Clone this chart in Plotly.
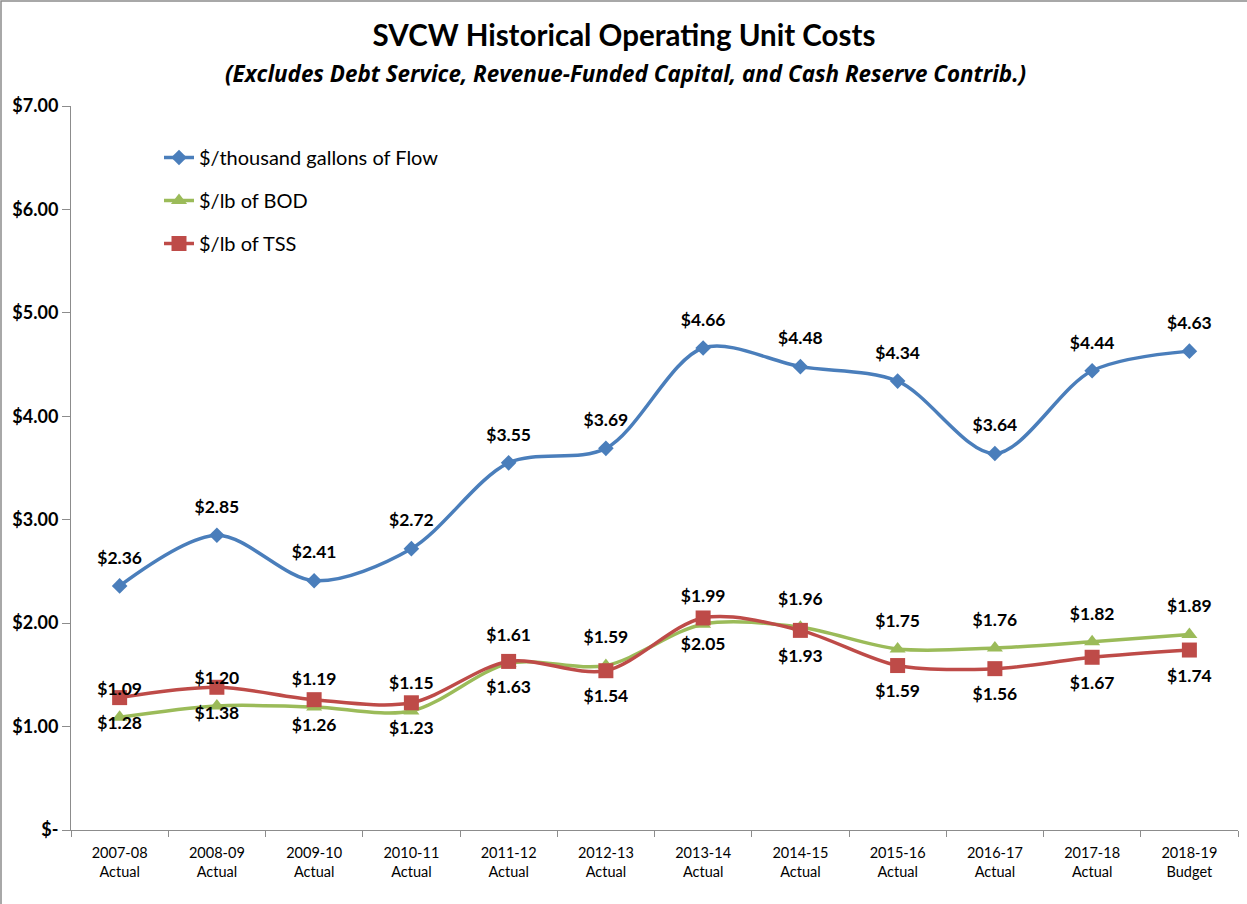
import plotly.graph_objects as go

years = ["2007-08", "2008-09", "2009-10", "2010-11", "2011-12", "2012-13",
         "2013-14", "2014-15", "2015-16", "2016-17", "2017-18", "2018-19"]
status = ["Actual"] * 11 + ["Budget"]
categories = [f"{y}<br>{s}" for y, s in zip(years, status)]

flow = [2.36, 2.85, 2.41, 2.72, 3.55, 3.69, 4.66, 4.48, 4.34, 3.64, 4.44, 4.63]
bod = [1.09, 1.20, 1.19, 1.15, 1.61, 1.59, 1.99, 1.96, 1.75, 1.76, 1.82, 1.89]
tss = [1.28, 1.38, 1.26, 1.23, 1.63, 1.54, 2.05, 1.93, 1.59, 1.56, 1.67, 1.74]

y_ticks = [0, 1, 2, 3, 4, 5, 6, 7]
y_ticktext = ["$-", "$1.00", "$2.00", "$3.00", "$4.00", "$5.00", "$6.00", "$7.00"]

FONT = "Lato, 'Open Sans', sans-serif"

fig = go.Figure()

series = [
    ("$/thousand gallons of Flow", flow, "#4A7EBB", "diamond", 12, "top center"),
    ("$/lb of BOD", bod, "#9BBB59", "triangle-up", 14, "top center"),
    ("$/lb of TSS", tss, "#BE4B48", "square", 15, "bottom center"),
]
for i, (name, vals, color, sym, size, pos) in enumerate(series):
    fig.add_trace(go.Scatter(
        x=categories, y=vals, name=name, legendgroup=f"g{i}",
        mode="lines+markers",
        line=dict(color=color, width=3.5, shape="spline", smoothing=0.9),
        marker=dict(symbol=sym, size=size, color=color),
        hoverinfo="x+y",
        cliponaxis=False,
    ))

# data labels (invisible large markers push the text away from the points)
for i, (name, vals, color, sym, size, pos) in enumerate(series):
    fig.add_trace(go.Scatter(
        x=categories, y=vals, mode="markers+text", showlegend=False,
        marker=dict(size=27 if pos.startswith("top") else 28, color="rgba(0,0,0,0)"),
        text=[f"${v:.2f}" for v in vals],
        textposition=pos,
        textfont=dict(family=FONT, size=17.5, color="#000000", weight="bold"),
        hoverinfo="skip",
        cliponaxis=False,
    ))

fig.update_layout(
    width=1247, height=904,
    margin=dict(l=71, r=9, t=106, b=74),
    paper_bgcolor="white", plot_bgcolor="white",
    font=dict(family=FONT, color="#000000"),
    title=dict(
        text="<b>SVCW Historical Operating Unit Costs</b>",
        x=624 / 1247, xref="container", xanchor="center",
        y=1 - 36 / 904, yref="container", yanchor="middle",
        font=dict(family=FONT, size=29.5, color="#000000"),
    ),
    showlegend=True,
    legend=dict(
        x=(159 - 71) / 1167, y=(830 - 138) / 724, xanchor="left", yanchor="top",
        bgcolor="rgba(0,0,0,0)",
        font=dict(family=FONT, size=20, color="#000000"),
        tracegroupgap=14,
    ),
    xaxis=dict(
        type="category", range=[-0.5, 11.5],
        showline=True, linecolor="#8C8C8C", linewidth=1,
        ticks="outside", tickson="boundaries", ticklen=6, tickcolor="#8C8C8C",
        ticklabelstandoff=10,
        showgrid=False, zeroline=False,
        tickfont=dict(family=FONT, size=14.5, color="#000000"),
        tickangle=0,
    ),
    yaxis=dict(
        range=[0, 7],
        tickvals=y_ticks, ticktext=y_ticktext,
        showline=True, linecolor="#8C8C8C", linewidth=1,
        ticks="outside", ticklen=8, tickcolor="#8C8C8C",
        showgrid=False, zeroline=False,
        tickfont=dict(family=FONT, size=18, color="#000000", weight="bold"),
    ),
    annotations=[dict(
        text="<b><i>(Excludes Debt Service, Revenue-Funded Capital, and Cash Reserve Contrib.)</i></b>",
        xref="paper", yref="paper",
        x=(625 - 71) / 1167, y=(830 - 73) / 724,
        xanchor="center", yanchor="middle", showarrow=False,
        font=dict(family="'Open Sans', Lato, sans-serif", size=22.4, color="#000000"),
    )],
    shapes=[dict(
        type="rect", xref="paper", yref="paper",
        x0=(1 - 71) / 1167, x1=(1260 - 71) / 1167,
        y0=(830 - 920) / 724, y1=(830 - 1) / 724,
        line=dict(color="#8C8C8C", width=1.5), fillcolor="rgba(0,0,0,0)",
        layer="below",
    )],
)

fig.write_html(
    "out.html",
    config={"displayModeBar": False},
    post_script="document.body.style.margin='0';document.body.style.overflow='hidden';",
)
